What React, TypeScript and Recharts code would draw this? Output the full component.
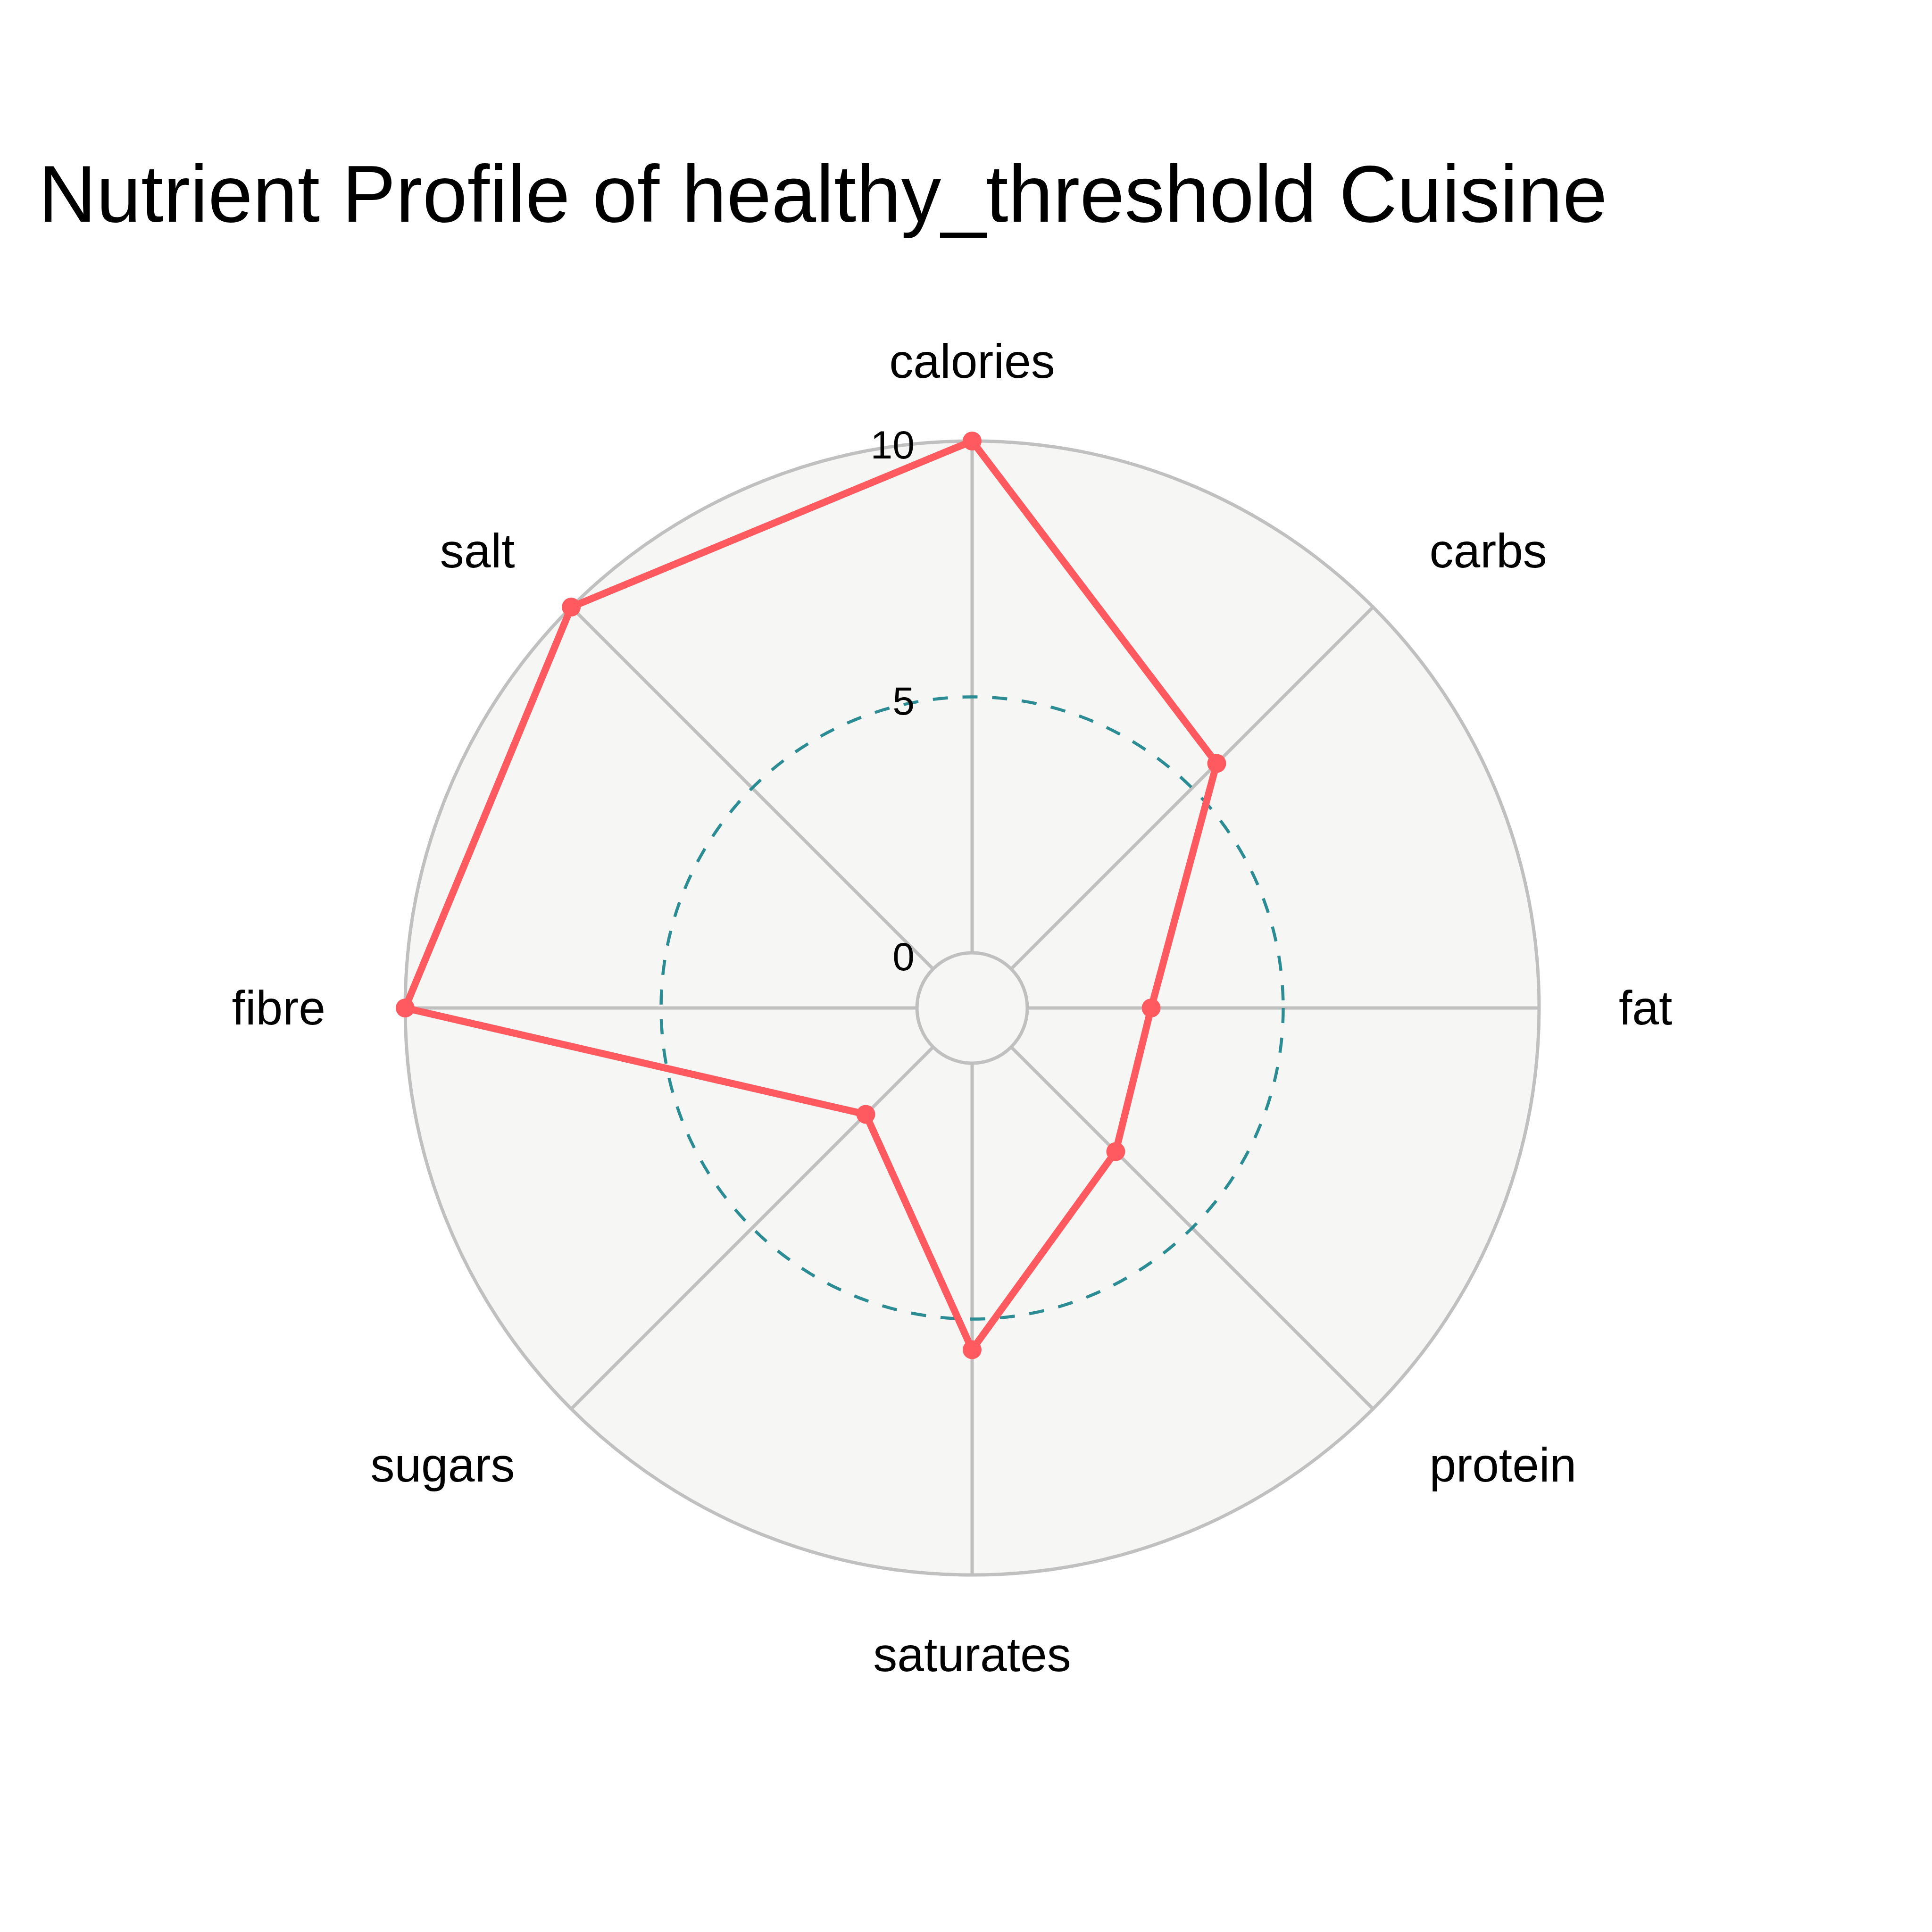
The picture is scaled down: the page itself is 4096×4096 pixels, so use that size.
import { RadarChart, Radar, PolarGrid, PolarAngleAxis, PolarRadiusAxis } from "recharts";

const nutrients = ["calories", "carbs", "fat", "protein", "saturates", "sugars", "fibre", "salt"];
const scores = [10, 5.68, 2.42, 2.89, 5.6, 1.86, 10, 10];
const labelTicks = [0, 5, 10];
const ringTicks = [0, 10];
const midTicks = [5];

const data = nutrients.map((name, i) => ({ name, value: scores[i] }));

const W = 4096;
const H = 4096;
const CX = 2061;
const CY = 2137;
const OUTER = 1202;
const INNER = 117;
const LABEL_R = 1371;
const FONT = "'Liberation Sans', Arial, Helvetica, sans-serif";
const BG = "#f6f6f4";
const RED = "#ff5a5f";
const TEAL = "#2b8c93";
const GRID = "#c0c0c0";

function AngleTick(props: any) {
  const { x, y, payload } = props;
  const dx = x - CX;
  const dy = y - CY;
  const len = Math.hypot(dx, dy) || 1;
  const ux = dx / len;
  const uy = dy / len;
  let anchor = "middle";
  if (ux > 0.01) anchor = "start";
  else if (ux < -0.01) anchor = "end";
  return (
    <text
      x={CX + ux * LABEL_R}
      y={CY + uy * LABEL_R}
      textAnchor={anchor}
      dominantBaseline="central"
      fontSize={102}
      fontFamily={FONT}
      fill="#000"
    >
      {payload.value}
    </text>
  );
}

function RadiusTick(props: any) {
  const { x, y, payload } = props;
  return (
    <text
      x={x - 122}
      y={y + 8}
      textAnchor="end"
      dominantBaseline="central"
      fontSize={84}
      fontFamily={FONT}
      fill="#000"
    >
      {payload.value}
    </text>
  );
}

function PointDot(props: any) {
  const { cx, cy, index } = props;
  if (cx == null || cy == null) return <g key={index} />;
  return <circle key={index} cx={cx} cy={cy} r={20} fill={RED} stroke="none" />;
}

export default function App() {
  return (
    <div style={{ position: "absolute", left: 0, top: 0, width: W, height: H, background: "#fff", overflow: "hidden" }}>
      {/* polar background disc */}
      <div
        style={{
          position: "absolute",
          left: CX - OUTER,
          top: CY - OUTER,
          width: 2 * OUTER,
          height: 2 * OUTER,
          borderRadius: "50%",
          background: BG,
        }}
      />
      <div style={{ position: "absolute", left: 0, top: 0 }}>
        <RadarChart
          width={W}
          height={H}
          data={data}
          cx={CX}
          cy={CY}
          innerRadius={INNER}
          outerRadius={OUTER}
          margin={{ top: 0, right: 0, bottom: 0, left: 0 }}
        >
          <PolarGrid radiusAxisId="ring" gridType="circle" stroke={GRID} strokeWidth={7} fill="none" />
          <PolarGrid
            radiusAxisId="mid"
            gridType="circle"
            radialLines={false}
            stroke={TEAL}
            strokeWidth={6.5}
            strokeDasharray="32 31"
            fill="none"
          />
          <PolarRadiusAxis radiusAxisId="ring" type="number" domain={[0, 10]} ticks={ringTicks} allowDataOverflow tick={false} axisLine={false} tickLine={false} />
          <PolarRadiusAxis radiusAxisId="mid" type="number" domain={[0, 10]} ticks={midTicks} allowDataOverflow tick={false} axisLine={false} tickLine={false} />
          <PolarAngleAxis dataKey="name" tick={<AngleTick />} tickLine={false} axisLine={false} />
          <PolarRadiusAxis
            angle={90}
            type="number"
            domain={[0, 10]}
            ticks={labelTicks}
            allowDataOverflow
            tick={<RadiusTick />}
            axisLine={false}
            tickLine={false}
          />
          <Radar
            dataKey="value"
            stroke={RED}
            strokeWidth={15}
            strokeLinejoin="round"
            fill="none"
            fillOpacity={0}
            dot={PointDot}
            isAnimationActive={false}
          />
        </RadarChart>
      </div>
      <svg style={{ position: "absolute", left: 0, top: 0 }} width={W} height={600}>
        <text x={81} y={470} fontSize={170.5} fontFamily={FONT} fill="#000">
          Nutrient Profile of healthy_threshold Cuisine
        </text>
      </svg>
    </div>
  );
}
